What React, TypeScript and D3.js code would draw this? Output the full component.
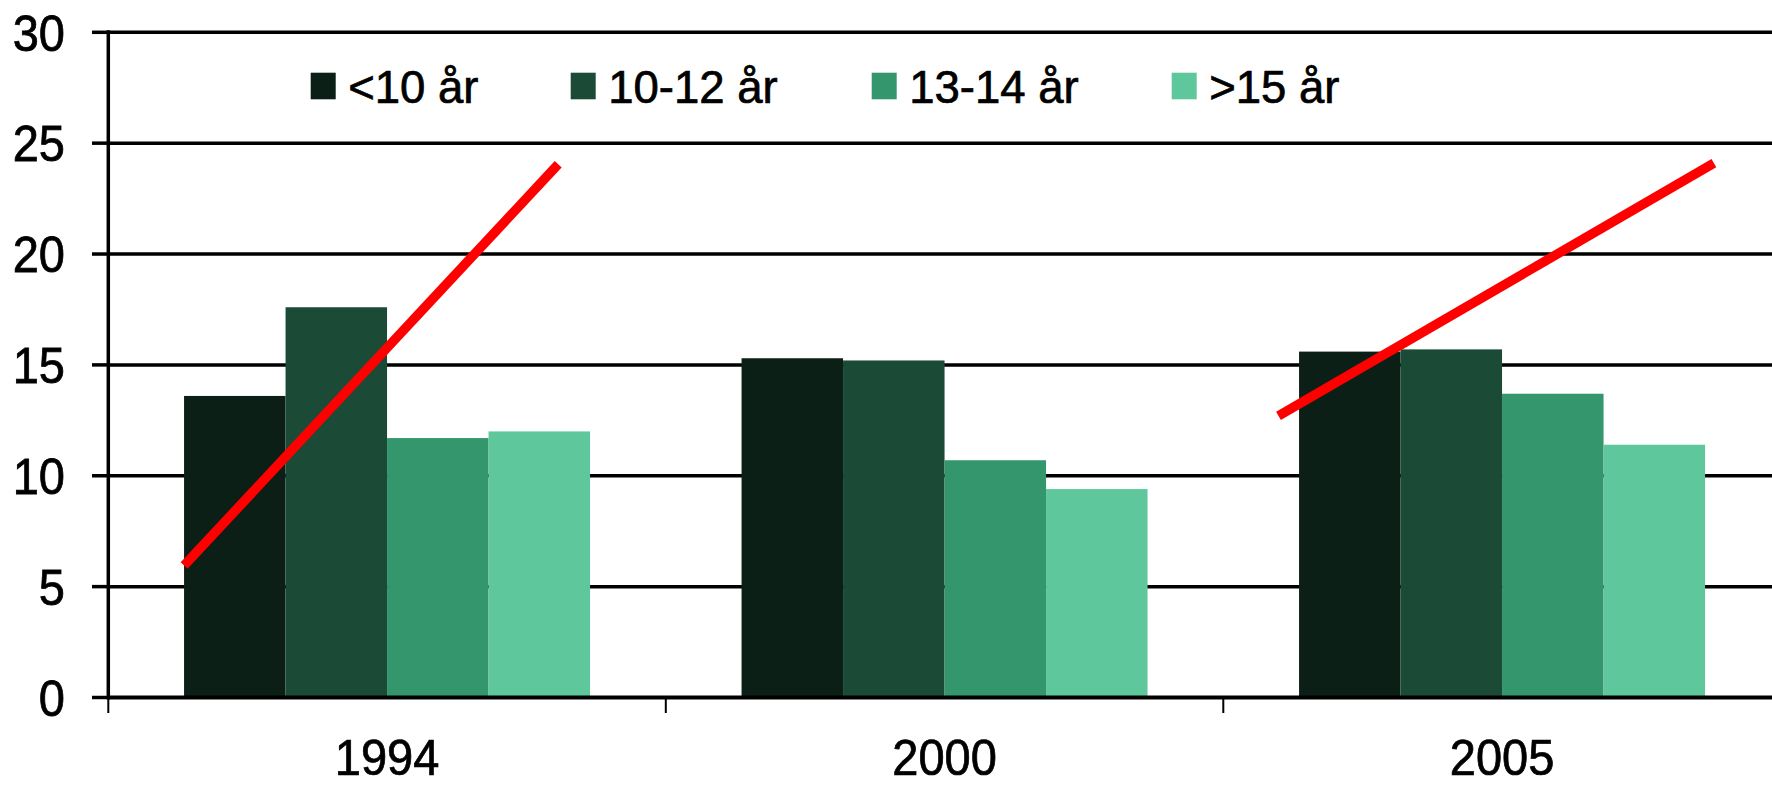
import React from "react";
import * as d3 from "d3";

const categories = ["1994", "2000", "2005"];
const seriesNames = ["<10 år", "10-12 år", "13-14 år", ">15 år"];
const seriesColors = ["#0c1f16", "#1b4a36", "#33966c", "#5ec89c"];
const valuesLt10 = [13.6, 15.3, 15.6];
const values10to12 = [17.6, 15.2, 15.7];
const values13to14 = [11.7, 10.7, 13.7];
const valuesGt15 = [12.0, 9.4, 11.4];
const seriesValues = [valuesLt10, values10to12, values13to14, valuesGt15];
const yTicks = [0, 5, 10, 15, 20, 25, 30];
// trend lines: [category, fraction within band, value]
const trendLine1994 = [["1994", 0.136, 5.95], ["1994", 0.807, 24.05]] as const;
const trendLine2005 = [["2005", 0.099, 12.7], ["2005", 0.88, 24.1]] as const;
const trendLines = [trendLine1994, trendLine2005];

const W = 1772;
const H = 786;
const FONT = "'Liberation Sans', Arial, sans-serif";

export default function App() {
  const x0 = 108.3;
  const band = 557.5;
  const x = d3.scaleBand<string>().domain(categories).range([x0, x0 + band * categories.length]).padding(0);
  const groupW = 406;
  const off = (band - groupW) / 2;
  const xs = d3.scaleBand<string>().domain(seriesNames).range([off, off + groupW]).padding(0);
  const y = d3.scaleLinear().domain([0, 30]).range([697.5, 32.3]);
  const line = d3.line<readonly [string, number, number]>()
    .x((d) => (x(d[0]) as number) + d[1] * x.bandwidth())
    .y((d) => y(d[2]));

  const legendX = [310.7, 570.7, 871.7, 1171.7];
  const textStroke = { stroke: "#000", strokeWidth: 0.7 };

  return (
    <svg width={W} height={H} style={{ position: "absolute", left: 0, top: 0, background: "#fff" }} fontFamily={FONT}>
      {/* gridlines */}
      {yTicks.filter((t) => t > 0).map((t) => (
        <line key={"g" + t} x1={x0} x2={W} y1={y(t)} y2={y(t)} stroke="#000" strokeWidth={3.5} />
      ))}
      {/* bars */}
      {categories.map((c, ci) => (
        <g key={c} transform={`translate(${x(c)},0)`}>
          {seriesNames.map((s, si) => {
            const v = seriesValues[si][ci];
            return (
              <rect key={s} x={xs(s)} y={y(v)} width={xs.bandwidth()} height={y(0) - y(v)} fill={seriesColors[si]} />
            );
          })}
        </g>
      ))}
      {/* x axis */}
      <line x1={x0} x2={W} y1={y(0)} y2={y(0)} stroke="#000" strokeWidth={4} />
      {categories.map((c) => (
        <line key={"xt" + c} x1={x(c)} x2={x(c)} y1={y(0)} y2={713} stroke="#000" strokeWidth={2} />
      ))}
      {categories.map((c) => (
        <text
          key={"xl" + c}
          transform={`translate(${(x(c) as number) + x.bandwidth() / 2},775) scale(1,1.06)`}
          textAnchor="middle"
          fontSize={47}
          fill="#000"
          {...textStroke}
        >
          {c}
        </text>
      ))}
      {/* y axis */}
      <line x1={x0} x2={x0} y1={y(30) - 2} y2={y(0) + 2} stroke="#000" strokeWidth={3.5} />
      {yTicks.map((t) => (
        <g key={"yt" + t}>
          <line x1={92} x2={x0} y1={y(t)} y2={y(t)} stroke="#000" strokeWidth={3.5} />
          <text
            transform={`translate(65,${y(t)}) scale(1,1.08)`}
            dy="0.36em"
            textAnchor="end"
            fontSize={47}
            fill="#000"
            {...textStroke}
          >
            {t}
          </text>
        </g>
      ))}
      {/* trend lines */}
      {trendLines.map((tl, i) => (
        <path key={"tl" + i} d={line(tl as any) as string} stroke="#ff0000" strokeWidth={9.5} fill="none" strokeLinecap="butt" />
      ))}
      {/* legend */}
      {seriesNames.map((s, i) => (
        <g key={"lg" + s}>
          <rect x={legendX[i]} y={72.7} width={25} height={26.6} fill={seriesColors[i]} />
          <text x={legendX[i] + 37.5} y={103.3} fontSize={45.5} fill="#000" {...textStroke}>
            {s}
          </text>
        </g>
      ))}
    </svg>
  );
}
